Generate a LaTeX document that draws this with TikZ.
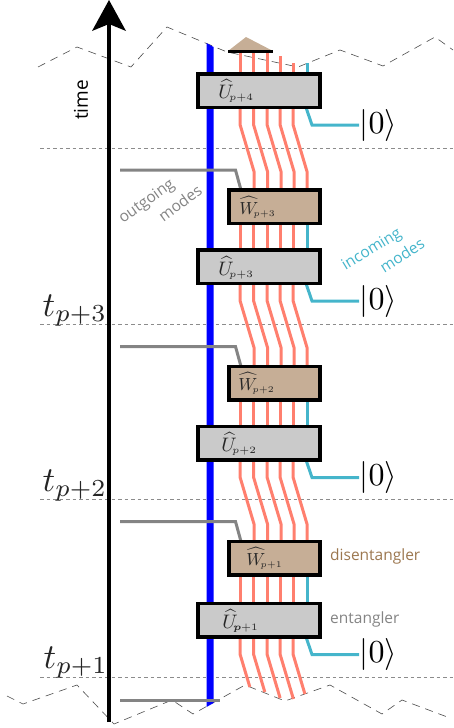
\documentclass[tikz,border=0pt]{standalone}
\usepackage{amsmath}
\usepackage{fontspec}
\setsansfont{Open Sans}
\usetikzlibrary{calc}
\definecolor{redline}{HTML}{FF7F6E}
\definecolor{cyanline}{HTML}{45B5CB}
\definecolor{grayline}{HTML}{848484}
\definecolor{tanbox}{HTML}{C6AE96}
\definecolor{greybox}{HTML}{CACACA}
\definecolor{brownlab}{HTML}{9C774F}
\tikzset{
 redmode/.style={draw=redline,line width=3pt,line join=miter},
 cyanmode/.style={draw=cyanline,line width=3pt},
 outmode/.style={draw=grayline,line width=3pt},
 gate/.style={draw=black,line width=3.6pt,rectangle,outer sep=0pt,inner sep=0pt,anchor=north west},
 ugate/.style={gate,fill=greybox,minimum width=122pt,minimum height=33.5pt},
 wgate/.style={gate,fill=tanbox,minimum width=91pt,minimum height=33.5pt},
 ulabel/.style={inner sep=0pt,anchor=base west,text=black!85,scale=1.95,transform shape},
 wlabel/.style={inner sep=0pt,anchor=base west,text=black!85,scale=1.75,transform shape},
 slice/.style={draw=black!45,line width=.6pt,dash pattern=on 3.5pt off 3pt},
 cutline/.style={draw=black!70,line width=.6pt,dash pattern=on 8pt off 6pt},
 ket/.style={inner sep=0pt,anchor=west,scale=3.2,transform shape},
 tlabel/.style={inner sep=0pt,anchor=base west,text=black!85,scale=3.5,transform shape},
 note/.style={inner sep=0pt,font=\sffamily\fontsize{15.5}{18}\selectfont},
}
\begin{document}
\begin{tikzpicture}[x=1pt,y=-1pt]
\useasboundingbox (0,0) rectangle (453,728);
% boxes first as names (drawn again on top below)
\path
 (198,74) node[ugate,draw=none,fill=none] (U4) {}
 (198,250) node[ugate,draw=none,fill=none] (U3) {}
 (198,426.5) node[ugate,draw=none,fill=none] (U2) {}
 (198,603.5) node[ugate,draw=none,fill=none] (U1) {}
 (229,190) node[wgate,draw=none,fill=none] (W3) {}
 (229,366.5) node[wgate,draw=none,fill=none] (W2) {}
 (229,541.5) node[wgate,draw=none,fill=none] (W1) {};
% slice lines
\foreach \y/\n in {148/a,324/b,499/c,677/d}{
  \coordinate (sl\n) at (40,\y); \coordinate (sr\n) at (453,\y);
  \draw[slice] (sl\n) -- (sr\n);
}
% jagged cuts
\coordinate (c1) at (38,67); \coordinate (c2) at (77,47); \coordinate (c3) at (131,67);
\coordinate (c4) at (167,27); \coordinate (c5) at (227,52); \coordinate (c6) at (298,67);
\coordinate (c7) at (340,50); \coordinate (c8) at (383,66); \coordinate (c9) at (435,37);
\coordinate (c10) at (453,50);
\draw[cutline] (c1)--(c2)--(c3)--(c4)--(c5)--(c6)--(c7)--(c8)--(c9)--(c10);
\coordinate (d1) at (7,696); \coordinate (d2) at (23,704); \coordinate (d3) at (77,685);
\coordinate (d4) at (114,724); \coordinate (d5) at (172,700); \coordinate (d6) at (193,714);
\coordinate (d7) at (245,685); \coordinate (d8) at (285,701); \coordinate (d9) at (330,685);
\coordinate (d10) at (382,714); \coordinate (d11) at (402,700); \coordinate (d12) at (450,718);
\draw[cutline] (d1)--(d2)--(d3)--(d4)--(d5)--(d6)--(d7)--(d8)--(d9)--(d10)--(d11)--(d12);
% time axis
\coordinate (t0) at (109,722); \coordinate (t1) at (109,20);
\draw[line width=3.4pt] (t0)--(t1);
\fill (109,0) -- (126,31) -- (109,24) -- (92,31) -- cycle;
% blue system line
\fill[blue] (206.5,43) -- (213.5,47) -- (213.5,703) -- (206.5,707) -- cycle;
% red modes
\foreach \x in {240,253.5,267,280,293}{
  \foreach \u/\w in {U4/W3,U3/W2,U2/W1}{
    \draw[redmode] (\x,0 |- \u.south) -- ++(0,17) -- ++(14,47) -- (\x+14,0 |- \w.north);
  }
}
\foreach \x/\y/\n in {240/52/a,253.5/52/b,267/52/c,280/56/d,293/63/e}{
  \coordinate (top\n) at (\x,\y);
  \draw[redmode] (top\n) -- (\x,0 |- U4.north);
}
\foreach \x/\e in {240/687,253.5/692,267/698,280/699,293/694}{
  \draw[redmode] (\x,0 |- U1.south) -- ++(0,17) -- ($(\x,654)+({(\e-654)*14/47},\e-654)$);
}
\foreach \w/\u in {W3/U3,W2/U2,W1/U1}{
  \foreach \x in {240,253.5,267,280,293}{
    \draw[redmode] (\x,0 |- \w.south) -- (\x,0 |- \u.north);
  }
  \draw[cyanmode] (307,0 |- \w.south) -- (307,0 |- \u.north);
}
% cyan modes
\coordinate (cyantop) at (307,63);
\draw[cyanmode] (cyantop) -- (307,0 |- U4.north);
\foreach \u/\n in {U4/a,U3/b,U2/c,U1/d}{
  \coordinate (k\n) at ($(360,0 |- \u.south)+(0,17.5)$);
  \node[ket] (ket\n) at ($(k\n)+(-1,0)$) {$|0\rangle$};
  \draw[cyanmode] (306,0 |- \u.south) -- ($(312,0 |- \u.south)+(0,17.5)$) -- (ket\n.west);
}
% outgoing modes
\foreach \w/\n in {W3/a,W2/b,W1/c}{
  \coordinate (o\n) at ($(120,0 |- \w.north)+(0,-20)$);
  \draw[outmode] (o\n) -- ($(235.5,0 |- \w.north)+(0,-20)$) -- (241,0 |- \w.north);
}
\coordinate (oe) at (120,700); \coordinate (oee) at (220,700);
\draw[outmode] (oe) -- (oee);
% decoding triangle
\coordinate (ta) at (246,37); \coordinate (tb) at (228,51); \coordinate (tc) at (273,51);
\fill[tanbox] (ta) -- (tc) -- (tb) -- cycle;
\draw[line width=3pt] (tb) -- (tc);
% gates
\path
 (198,74) node[ugate] {}
 (198,250) node[ugate] {}
 (198,426.5) node[ugate] {}
 (198,603.5) node[ugate] {}
 (229,190) node[wgate] {}
 (229,366.5) node[wgate] {}
 (229,541.5) node[wgate] {};
% gate labels
\node[ulabel] (lU4) at (218,98) {$\widehat{U}_{\!\scriptscriptstyle p+4}$};
\node[ulabel] (lU3) at (218,275) {$\widehat{U}_{\!\scriptscriptstyle p+3}$};
\node[ulabel] (lU2) at (221,451) {$\widehat{U}_{\!\scriptscriptstyle p+2}$};
\node[ulabel] (lU1) at (222,628) {$\widehat{U}_{\!\scriptscriptstyle \boldsymbol{p}+1}$};
\node[wlabel] (lW3) at (239,214) {$\widehat{W}_{\!\scriptscriptstyle p+3}$};
\node[wlabel] (lW2) at (238,390) {$\widehat{W}_{\!\scriptscriptstyle p+2}$};
\node[wlabel] (lW1) at (246,565) {$\widehat{W}_{\!\scriptscriptstyle p+1}$};
% time labels
\node[tlabel] (t3) at (42,316) {$t_{p+3}$};
\node[tlabel] (t2) at (42,491) {$t_{p+2}$};
\node[tlabel] (tt1) at (43,668) {$t_{p+1}$};
% notes
\node[note,rotate=90,font=\sffamily\fontsize{19}{22}\selectfont] (time) at (81,100) {time};
\node[note,text=grayline,rotate=35.5] (out) at (147,202) {outgoing};
\node[note,text=grayline,rotate=36.5] (outm) at (180,203) {modes};
\node[note,text=cyanline,rotate=31.5] (inc) at (372,250) {incoming};
\node[note,text=cyanline,rotate=32.5] (incm) at (402,255) {modes};
\node[note,text=brownlab,anchor=west] (dis) at (330,556) {disentangler};
\node[note,text=grayline,anchor=west] (ent) at (330,619) {entangler};
\end{tikzpicture}
\end{document}
